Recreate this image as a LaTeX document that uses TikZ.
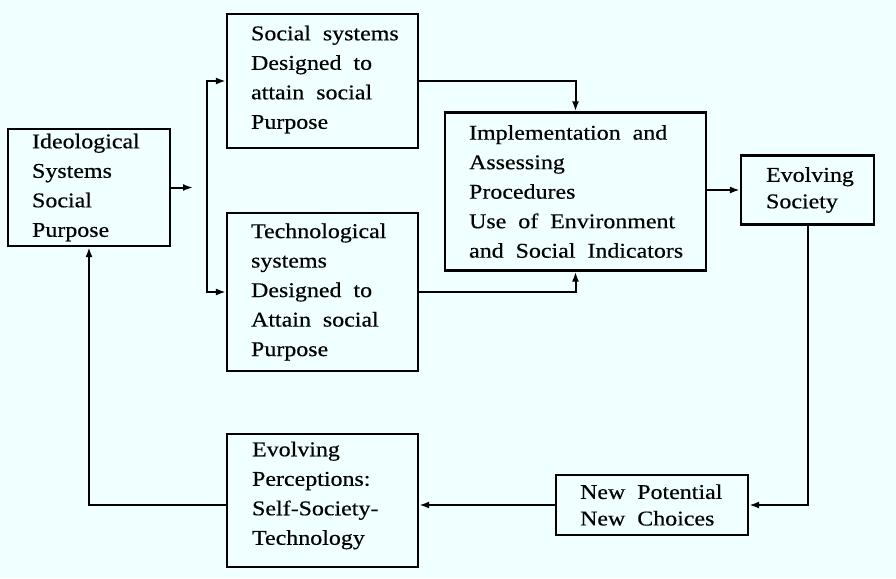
\documentclass[tikz,border=0pt]{standalone}
\usepackage{fontspec}
\setmainfont{Liberation Serif}[FakeStretch=1.14, WordSpace=2, FakeBold=0.4]
\usetikzlibrary{arrows.meta}
\definecolor{paper}{RGB}{240,255,255}
\begin{document}
\begin{tikzpicture}[x=1pt, y=-1pt,
  frame/.style={draw, line width=2.2pt, inner sep=0pt},
  boxtext/.style={anchor=west, align=left, inner sep=0pt,
    font=\fontsize{21}{29.5}\selectfont},
  tight/.style={font=\fontsize{21}{26.5}\selectfont},
  link/.style={line width=2pt},
  arr/.style={link, -{Latex[length=10pt, width=7pt]}}]
  % page
  \fill[paper] (0,0) rectangle (896,578);
  \useasboundingbox (0,0) rectangle (896,578);

  % boxes
  \node[frame, minimum width=162pt, minimum height=117pt] (ideo) at (89,187.5) {};
  \node[frame, minimum width=191pt, minimum height=134pt] (soc)  at (322.5,81) {};
  \node[frame, minimum width=191pt, minimum height=158pt] (tech) at (322.5,292) {};
  \node[frame, minimum width=261pt, minimum height=158pt] (impl) at (575.5,191.5) {};
  \node[frame, minimum width=133pt, minimum height=69pt]  (evs)  at (807.5,190) {};
  \node[frame, minimum width=192pt, minimum height=60pt]  (newp) at (652,505) {};
  \node[frame, minimum width=191pt, minimum height=133pt] (perc) at (322.5,500.5) {};

  % box texts
  \node[boxtext] (ideoT) at ([xshift=25pt]ideo.west) {Ideological\\Systems\\Social\\Purpose};
  \node[boxtext] (socT)  at ([xshift=25pt,yshift=1.5pt]soc.west) {Social systems\\Designed to\\attain social\\Purpose};
  \node[boxtext] (techT) at ([xshift=25pt]tech.west) {Technological\\systems\\Designed to\\Attain social\\Purpose};
  \node[boxtext] (implT) at ([xshift=25pt]impl.west) {Implementation and\\Assessing\\Procedures\\Use of Environment\\and Social Indicators};
  \node[boxtext, tight] (evsT)  at ([xshift=26pt]evs.west) {Evolving\\Society};
  \node[boxtext, tight] (newpT) at ([xshift=25pt]newp.west) {New Potential\\New Choices};
  \node[boxtext] (percT) at ([xshift=26pt,yshift=5pt]perc.west) {Evolving\\Perceptions:\\Self-Society-\\Technology};

  % connectors
  \coordinate (stub) at (193,187.5);
  \coordinate (split) at (207,187.5);
  \draw[arr] (ideo.east) -- (stub);
  \draw[arr] (split) |- (soc.west);
  \draw[arr] (split) |- (tech.west);
  \draw[arr] (soc.east) -| (impl.north);
  \draw[arr] (tech.east) -| (impl.south);
  \draw[arr] (evs.west -| impl.east) -- (evs.west);
  \draw[arr] (evs.south) |- (newp.east);
  \draw[arr] (newp.west) -- (newp.west -| perc.east);
  \draw[arr] (perc.west |- newp.west) -| (ideo.south);
\end{tikzpicture}
\end{document}
